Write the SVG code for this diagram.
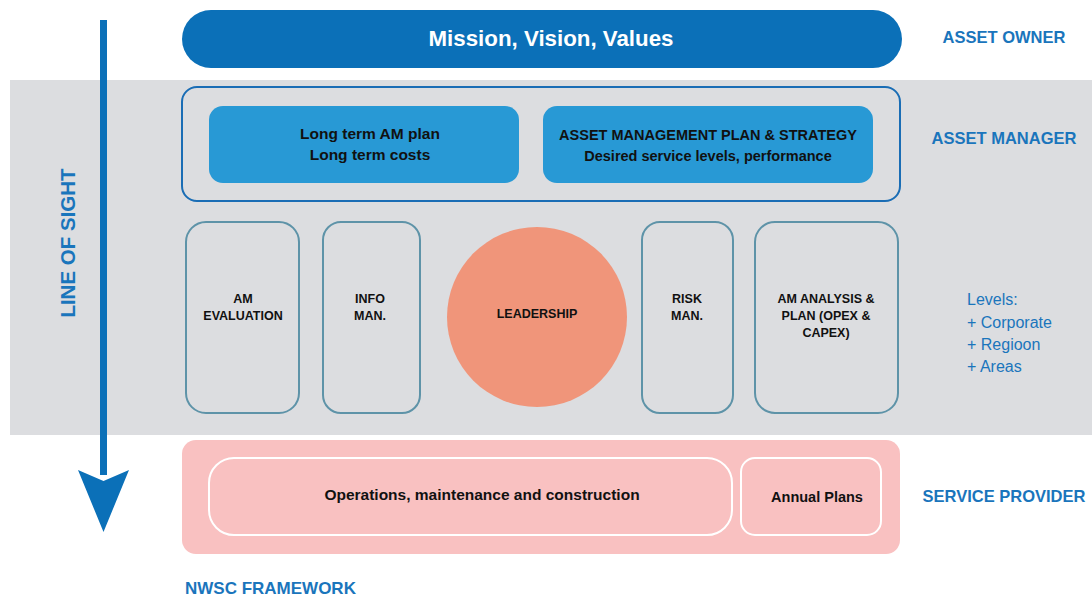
<svg xmlns="http://www.w3.org/2000/svg" width="1092" height="599" viewBox="0 0 1092 599">
<style>
text{font-family:"Liberation Sans",Arial,sans-serif;font-weight:bold;text-anchor:middle}
.blk{fill:#111}
.lbl{fill:#1A75BC;font-size:16.5px}
.box{fill:none;stroke:#5E93A8;stroke-width:2}
.sm{font-size:12.5px}
.mid{font-size:14.5px}
.big{font-size:15.5px}
.inner{fill:none;stroke:#FFFFFF;stroke-width:2}
.lv{fill:#1A75BC;font-size:16px;font-weight:normal;text-anchor:start}
</style>
<rect x="0" y="0" width="1092" height="599" fill="#FFFFFF"/>
<rect x="10" y="80" width="1082" height="355" fill="#DCDDE0"/>

<g id="mission">
<rect x="182" y="10" width="720" height="58" rx="29" fill="#0B70B8"/>
<text x="551" y="46" fill="#FFFFFF" style="font-size:22.3px">Mission, Vision, Values</text>
</g>

<g id="asset-manager-frame">
<rect x="182" y="87" width="718" height="114" rx="15" fill="none" stroke="#1A6DB5" stroke-width="2"/>
</g>
<g id="long-term">
<rect x="209" y="106" width="310" height="77" rx="14" fill="#2899D5"/>
<text class="blk big" x="370" y="139">Long term AM plan</text>
<text class="blk big" x="370" y="160">Long term costs</text>
</g>
<g id="am-plan">
<rect x="543" y="106" width="330" height="77" rx="14" fill="#2899D5"/>
<text class="blk mid" x="708" y="140">ASSET MANAGEMENT PLAN &amp; STRATEGY</text>
<text class="blk mid" x="708" y="161">Desired service levels, performance</text>
</g>

<g id="am-evaluation">
<rect class="box" x="186" y="222" width="113" height="191" rx="20"/>
<text class="blk sm" x="243" y="303">AM</text>
<text class="blk sm" x="243" y="320">EVALUATION</text>
</g>
<g id="info-man">
<rect class="box" x="323" y="222" width="97" height="191" rx="18"/>
<text class="blk sm" x="370" y="303">INFO</text>
<text class="blk sm" x="370" y="320">MAN.</text>
</g>
<g id="leadership">
<circle cx="537" cy="317" r="90" fill="#F0957A"/>
<text class="blk sm" x="537" y="318">LEADERSHIP</text>
</g>
<g id="risk-man">
<rect class="box" x="642" y="222" width="91" height="191" rx="18"/>
<text class="blk sm" x="687" y="303">RISK</text>
<text class="blk sm" x="687" y="320">MAN.</text>
</g>
<g id="am-analysis">
<rect class="box" x="755" y="222" width="143" height="191" rx="20"/>
<text class="blk sm" x="826" y="303">AM ANALYSIS &amp;</text>
<text class="blk sm" x="826" y="320">PLAN (OPEX &amp;</text>
<text class="blk sm" x="826" y="337">CAPEX)</text>
</g>

<g id="service-provider">
<rect x="182" y="440" width="718" height="114" rx="14" fill="#F9C1C1"/>
</g>
<g id="operations">
<rect class="inner" x="209" y="458" width="523" height="77" rx="25"/>
<text class="blk big" x="482" y="500">Operations, maintenance and construction</text>
</g>
<g id="annual-plans">
<rect class="inner" x="741" y="458" width="140" height="77" rx="14"/>
<text class="blk mid" x="817" y="502">Annual Plans</text>
</g>

<g id="labels">
<text class="lbl" x="1004" y="43">ASSET OWNER</text>
<text class="lbl" x="1004" y="144">ASSET MANAGER</text>
<text class="lbl" x="1004" y="502">SERVICE PROVIDER</text>
<text class="lbl" x="185" y="594" style="text-anchor:start;font-size:17px">NWSC FRAMEWORK</text>
<text class="lv" x="967" y="305">Levels:</text>
<text class="lv" x="967" y="328">+ Corporate</text>
<text class="lv" x="967" y="350">+ Regioon</text>
<text class="lv" x="967" y="372">+ Areas</text>
<text x="0" y="0" fill="#1A75BC" style="font-size:20.5px" transform="translate(75,243) rotate(-90)">LINE OF SIGHT</text>
</g>

<g id="connectors">
<rect x="100" y="20" width="7" height="455" fill="#0B70B8"/>
<polygon points="78,470 103.5,481 129,470 103.5,532" fill="#0B70B8"/>
</g>
</svg>
